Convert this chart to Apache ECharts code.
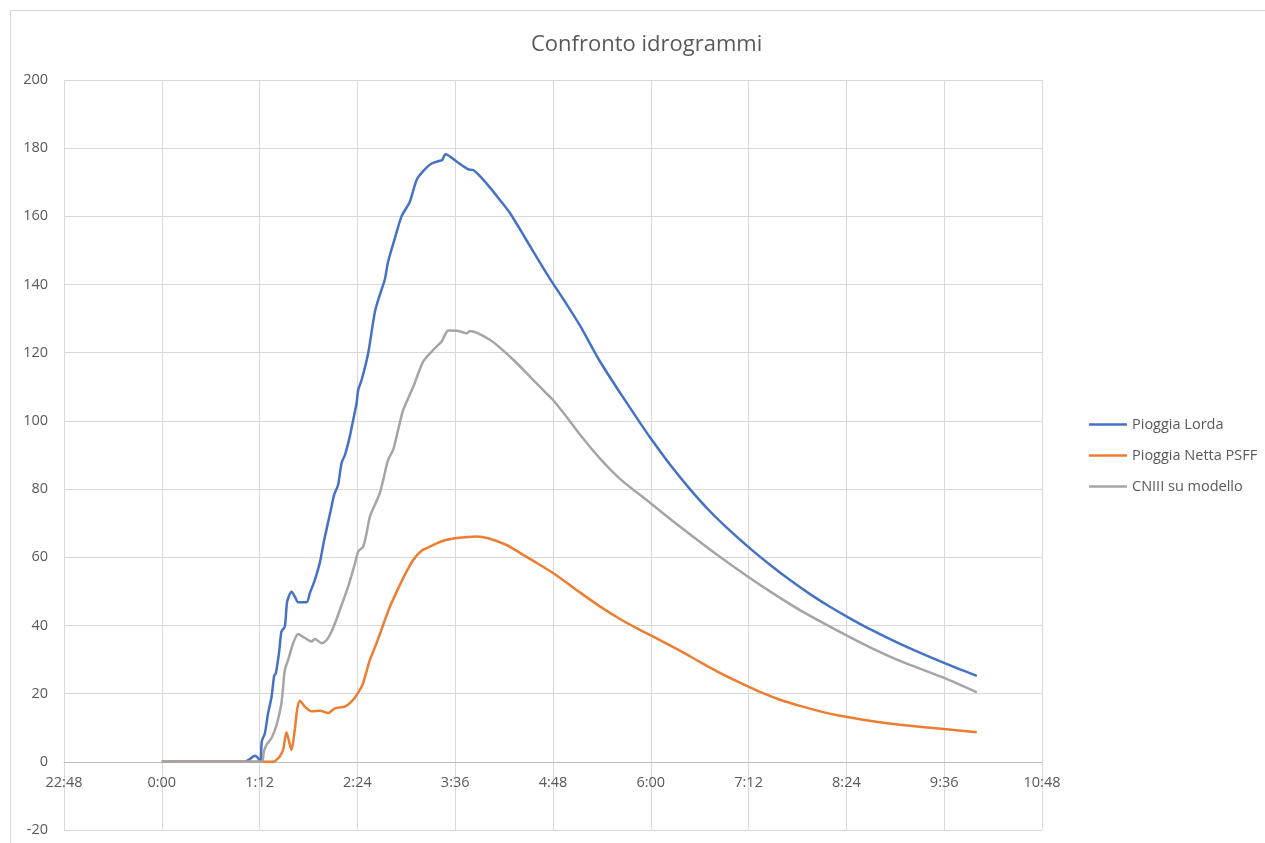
<!DOCTYPE html>
<html><head><meta charset="utf-8">
<script src="https://cdn.jsdelivr.net/npm/echarts@6/dist/echarts.min.js"></script>
<style>
html,body{margin:0;padding:0;background:#fff;overflow:hidden}
#frame{position:absolute;left:10px;top:10px;width:1300px;height:900px;border:1px solid #d9d9d9;box-sizing:border-box}
#c{position:absolute;left:0;top:0;width:1265px;height:843px}
</style></head>
<body><div id="frame"></div><div id="c"></div>
<script>
// time in minutes from 0:00
const seriesNames = ['Pioggia Lorda', 'Pioggia Netta PSFF', 'CNIII su modello'];
const lordaT = [0,61.1,64.8,68.5,70.7,72.7,73.6,75.9,78.3,80.8,82.7,84.0,86.4,88.1,90.6,92.3,95.5,97.9,100.4,106.6,109.0,112.7,116.4,119.0,122.0,124.5,127.0,129.8,132.3,134.8,138.4,140.9,143.4,144.6,147.1,151.9,156.9,160.5,164.2,166.6,171.6,176.5,182.6,187.6,192.9,198.6,204.7,206.4,208.9,218.0,225.6,229.2,234.2,241.5,248.9,256.3,267.3,281.3,287.2,296.8,307.8,322.5,337.3,352.0,359.4,374.1,388.8,403.5,418.3,433.0,447.7,462.5,477.2,491.9,506.6,521.4,543.5,575.9,600];
const lordaV = [0,0,0.8,1.8,1.2,0,6,8.4,14.4,19,25.2,26,32.3,38.2,39.7,47,49.9,48.5,46.8,46.8,49.5,53.4,58.5,64,69.5,74,78.5,81.2,87.6,90,95.4,100.3,105.2,109.1,112,119.8,132,137,141.5,146.7,153.6,160,164.3,170.7,173.5,175.5,176.3,176.5,178.2,175.8,173.8,173.6,171.8,168.5,164.8,161,153.8,144.5,140.8,135,128,117.5,108.3,99.5,95.2,87.2,80,73.5,67.8,62.6,57.8,53.3,49.2,45.5,42.1,38.9,34.6,29,25.2];
const nettaT = [0,82.0,84.5,86.9,89.3,91.8,94.3,95.5,97.9,99.6,101.6,105.3,110.2,116.4,122.5,127.4,134.8,140.9,145.8,148.2,153.2,158.1,163.0,167.9,177.7,185.1,191.5,197.4,202.3,208.4,215.8,223.1,231.7,240.3,253.8,263.6,275.4,287.2,296.8,307.8,322.5,337.3,352.0,366.7,381.4,396.2,410.9,425.6,440.4,455.1,469.8,484.6,499.3,514.0,528.7,543.5,575.9,600];
const nettaV = [0,0,0.6,1.6,3.5,8.7,5,3.5,9.4,15.2,17.9,16.2,14.8,15,14.3,15.7,16.2,18.2,21.1,23.1,29.9,34.8,40.2,45.5,53.9,59.2,62,63.1,64.1,65,65.6,65.9,66.1,65.6,63.6,61.3,58.5,55.6,52.9,49.7,45.6,41.9,38.7,35.7,32.6,29.3,26.1,23.2,20.5,18.2,16.4,14.8,13.5,12.5,11.6,10.9,9.6,8.7];
const cnT = [0,73.4,75.1,77.1,80.8,84.5,88.1,90.6,93.0,96.7,100.4,103.8,107.5,110.2,112.7,114.9,117.6,120.8,123.7,127.4,131.1,137.2,142.1,144.6,148.2,150.7,153.2,156.9,160.5,163.0,166.6,170.3,174.0,177.7,185.1,192.4,199.8,206.0,208.4,210.8,218.2,224.4,226.8,231.7,241.5,248.9,259.9,271.0,282.0,287.2,296.8,307.8,322.5,337.3,359.4,381.4,403.5,430.8,447.7,469.8,503.0,521.4,543.5,575.9,600];
const cnV = [0,0,3,5,7,10.8,17.2,27,29.9,34.8,37.5,36.7,35.8,35.3,36,35.5,34.8,35.5,37.2,40.5,44.6,51.4,58,61.7,63.1,67,71.9,75.4,78.8,82.7,88.6,91.5,97.4,103.2,110,117.4,120.8,123.3,125.2,126.5,126.4,125.7,126.4,125.9,123.8,121.5,117.5,113,108.5,106.5,101.8,96,89,83,76,69,62.3,54.5,50,44.5,37.3,33.6,29.6,24.6,20.4];
const xMin = -72, xMax = 648, xStep = 72;
const yMin = -20, yMax = 200, yStep = 20;
const colors = ['#4472C4', '#ED7D31', '#A5A5A5'];

function pairs(t, v){ return t.map((x,i)=>[x, v[i]]); }
function fmt(m){ let mm = ((m % 1440) + 1440) % 1440; const h = Math.floor(mm/60); const mi = Math.round(mm%60); return h + ':' + (mi<10?'0':'') + mi; }

const W = 1265, H = 843;
const gridTop = 80, gridBottom = 13, gridLeft = 64, gridRight = 223;
const plotH = H - gridTop - gridBottom;
const zeroOffset = plotH * (0 - yMin) / (yMax - yMin);

const chart = echarts.init(document.getElementById('c'), null, {renderer:'canvas'});
const font = '"Open Sans", "Liberation Sans", sans-serif';
const mk = (name, data, color) => ({
  name, type:'line', data, symbol:'none', showSymbol:false, smooth:0.25,
  lineStyle:{color, width:2.5}, itemStyle:{color}, animation:false
});
chart.setOption({
  animation:false,
  title:{text:'Confronto idrogrammi', left:526, top:29,
    textStyle:{fontFamily:font, fontSize:22, fontWeight:'normal', color:'#595959'}},
  grid:{left:gridLeft, right:gridRight, top:gridTop, bottom:gridBottom, containLabel:false, outerBoundsMode:'none'},
  legend:{orient:'vertical', left:1084, top:412, icon:'rect', itemWidth:38, itemHeight:2.5, itemGap:16,
    textStyle:{fontFamily:font, fontSize:14.5, color:'#595959'}, data:seriesNames},
  xAxis:{type:'value', min:xMin, max:xMax, interval:xStep, offset:-zeroOffset,
    axisLine:{onZero:false, lineStyle:{color:'#bfbfbf', width:1}}, axisTick:{show:false},
    axisLabel:{formatter:fmt, fontFamily:font, fontSize:14.5, color:'#595959', margin:14},
    splitLine:{show:true, lineStyle:{color:'#d9d9d9', width:1}}},
  yAxis:{type:'value', min:yMin, max:yMax, interval:yStep,
    axisLine:{show:false}, axisTick:{show:false},
    axisLabel:{fontFamily:font, fontSize:14.5, color:'#595959', margin:16},
    splitLine:{show:true, lineStyle:{color:'#d9d9d9', width:1}}},
  series:[
    mk(seriesNames[0], pairs(lordaT, lordaV), colors[0]),
    mk(seriesNames[1], pairs(nettaT, nettaV), colors[1]),
    mk(seriesNames[2], pairs(cnT, cnV), colors[2])
  ]
});
</script></body></html>
